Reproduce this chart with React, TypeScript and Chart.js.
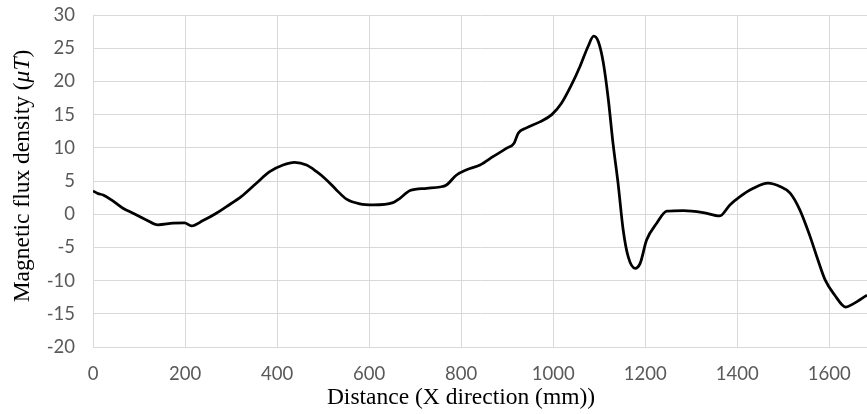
import React, { useEffect, useRef } from "react";
import { Chart, registerables } from "chart.js";

Chart.register(...registerables);

const distanceMm: number[] = [
  0, 11, 22, 40, 65, 87, 116, 141, 174, 199, 214, 239, 268, 290, 322, 355, 384, 413, 438, 464,
  486, 507, 529, 551, 580, 609, 652, 667, 689, 725, 754, 768, 790, 812, 841, 870, 899, 915, 924,
  942, 971, 997, 1018, 1040, 1058, 1076, 1088, 1098, 1109, 1120, 1130, 1141, 1152, 1163, 1178,
  1189, 1203, 1225, 1247, 1283, 1326, 1362, 1384, 1406, 1435, 1467, 1493, 1515, 1536, 1558,
  1573, 1591, 1612, 1636, 1652, 1682,
];

const fluxMicroT: number[] = [
  3.5, 3.1, 2.9, 2.15, 0.9, 0.15, -0.86, -1.6, -1.36, -1.3, -1.76, -0.96, 0.15, 1.15, 2.65, 4.67,
  6.4, 7.4, 7.8, 7.4, 6.4, 5.2, 3.66, 2.26, 1.55, 1.4, 1.75, 2.4, 3.56, 3.9, 4.1, 4.4, 5.9, 6.7,
  7.4, 8.7, 9.95, 10.7, 12.2, 13.0, 13.9, 15.0, 16.7, 19.5, 22.2, 25.3, 26.8, 26.0, 22.8, 17.2,
  10.7, 4.67, -2.3, -6.4, -8.15, -7.4, -3.9, -1.36, 0.45, 0.55, 0.25, -0.25, 1.4, 2.65, 3.9, 4.67,
  4.16, 3.17, 0.65, -3.3, -6.4, -9.9, -12.2, -14.0, -13.5, -12.2,
];

const xTickValues: number[] = [0, 200, 400, 600, 800, 1000, 1200, 1400, 1600];
const yTickValues: number[] = [-20, -15, -10, -5, 0, 5, 10, 15, 20, 25, 30];

const xTitle = "Distance (X direction (mm))";
const yTitleParts: { text: string; italic: boolean }[] = [
  { text: "Magnetic flux density (", italic: false },
  { text: "μT", italic: true },
  { text: ")", italic: false },
];

const serif = "'Liberation Serif', 'Times New Roman', serif";
const xTitleFont = `23.5px ${serif}`;
const yTitleFont = `23.5px ${serif}`;
const yTitleFontItalic = `italic 23.5px ${serif}`;

const titlesPlugin = {
  id: "axisTitles",
  afterDraw(chart: any) {
    const ctx = chart.ctx as CanvasRenderingContext2D;
    ctx.save();
    ctx.fillStyle = "#000000";
    ctx.textBaseline = "middle";
    ctx.font = xTitleFont;
    ctx.textAlign = "center";
    ctx.fillText(xTitle, 461, 398);
    let total = 0;
    const widths = yTitleParts.map((p) => {
      ctx.font = p.italic ? yTitleFontItalic : yTitleFont;
      const w = ctx.measureText(p.text).width;
      total += w;
      return w;
    });
    ctx.translate(23, 176);
    ctx.rotate(-Math.PI / 2);
    ctx.textAlign = "left";
    let x = -total / 2;
    yTitleParts.forEach((p, i) => {
      ctx.font = p.italic ? yTitleFontItalic : yTitleFont;
      ctx.fillText(p.text, x, 0);
      x += widths[i];
    });
    ctx.restore();
  },
};

export default function App() {
  const canvasRef = useRef<HTMLCanvasElement | null>(null);

  useEffect(() => {
    document.body.style.margin = "0";
    const canvas = canvasRef.current;
    if (!canvas) return;
    const points = distanceMm.map((d, i) => ({ x: d, y: fluxMicroT[i] }));
    const tickFont = { family: "Lato, 'Open Sans', sans-serif", size: 18.5 };
    const chart = new Chart(canvas, {
      type: "line",
      data: {
        datasets: [
          {
            data: points,
            borderColor: "#000000",
            borderWidth: 2.75,
            pointRadius: 0,
            fill: false,
            cubicInterpolationMode: "monotone",
          },
        ],
      },
      plugins: [titlesPlugin],
      options: {
        responsive: false,
        animation: false,
        layout: { padding: { top: 15, right: 0, left: 0, bottom: 0 } },
        plugins: {
          legend: { display: false },
          tooltip: { enabled: false },
        },
        scales: {
          x: {
            type: "linear",
            min: 0,
            max: 1682,
            afterBuildTicks: (scale: any) => {
              scale.ticks = xTickValues.map((v) => ({ value: v }));
            },
            afterFit: (scale: any) => {
              scale.height = 67;
              scale.paddingLeft = 0;
              scale.paddingRight = 0;
            },
            grid: { color: "#d9d9d9", lineWidth: 1, drawTicks: false },
            border: { color: "#d9d9d9", width: 1 },
            ticks: {
              color: "#595959",
              font: tickFont,
              padding: 16,
              maxRotation: 0,
              autoSkip: false,
              callback: (v: any) => String(v),
            },
          },
          y: {
            type: "linear",
            min: -20,
            max: 30,
            afterBuildTicks: (scale: any) => {
              scale.ticks = yTickValues.map((v) => ({ value: v }));
            },
            afterFit: (scale: any) => {
              scale.width = 93;
              scale.paddingTop = 0;
              scale.paddingBottom = 0;
            },
            grid: { color: "#d9d9d9", lineWidth: 1, drawTicks: false },
            border: { color: "#d9d9d9", width: 1 },
            ticks: {
              color: "#595959",
              font: tickFont,
              padding: 18,
              callback: (v: any) => String(v),
            },
          },
        },
      },
    } as any);
    return () => chart.destroy();
  }, []);

  return (
    <div style={{ position: "absolute", left: 0, top: 0, width: 867, height: 414, background: "#ffffff" }}>
      <canvas ref={canvasRef} width={867} height={414} style={{ width: 867, height: 414 }} />
    </div>
  );
}
